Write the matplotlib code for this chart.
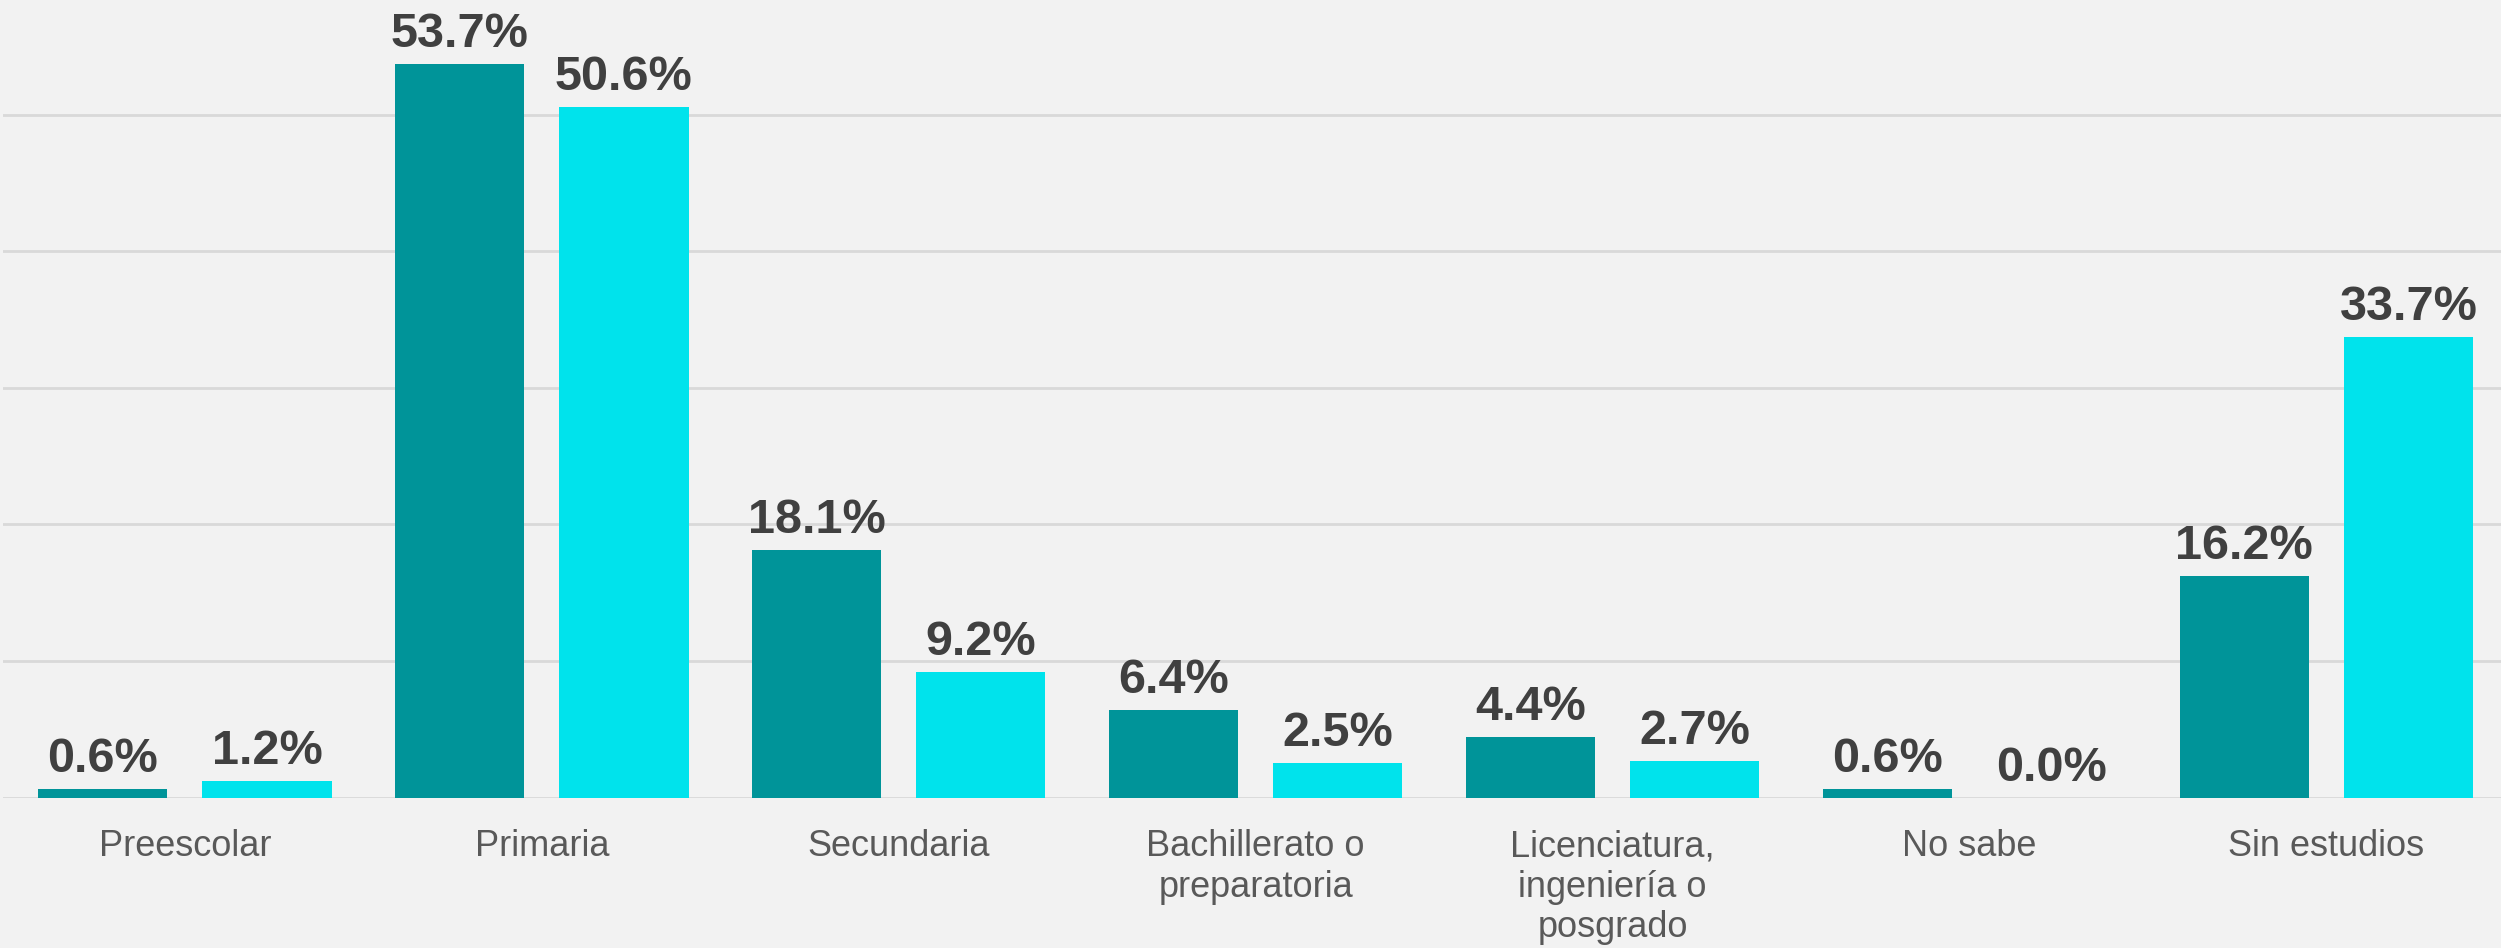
import numpy as np
import matplotlib.pyplot as plt

# Datos
categorias = ["Preescolar", "Primaria", "Secundaria", "Bachillerato o\npreparatoria",
              "Licenciatura,\ningeniería o\nposgrado", "No sabe", "Sin estudios"]
serie_1 = [0.6, 53.7, 18.1, 6.4, 4.4, 0.6, 16.2]
serie_2 = [1.2, 50.6, 9.2, 2.5, 2.7, 0.0, 33.7]

color_1 = "#009499"
color_2 = "#00E3EC"
fondo = "#F2F2F2"

plt.rcParams['font.family'] = ['Liberation Sans', 'DejaVu Sans']

fig = plt.figure(figsize=(25.01, 9.48), dpi=100, facecolor=fondo)
ax = fig.add_axes([0.001, 1 - 797.5 / 948, 0.999, 797.5 / 948])
ax.set_facecolor(fondo)

x = np.arange(len(categorias))
ancho = 0.362
desp = 0.23

b1 = ax.bar(x - desp, serie_1, ancho, color=color_1, zorder=3)
b2 = ax.bar(x + desp, serie_2, ancho, color=color_2, zorder=3)

for barras, valores in [(b1, serie_1), (b2, serie_2)]:
    for bar, v in zip(barras, valores):
        ax.annotate(f"{v:.1f}%", (bar.get_x() + bar.get_width() / 2, v),
                    xytext=(0, 5), textcoords="offset points",
                    ha="center", va="bottom", fontsize=35, fontweight="bold",
                    color="#404040")

ax.set_xlim(-0.511, 6.489)
ax.set_ylim(0, 58.4)
ax.set_yticks([0, 10, 20, 30, 40, 50])
ax.yaxis.grid(True, color="#D9D9D9", linewidth=2, zorder=0)
ax.tick_params(axis="y", left=False, labelleft=False)
ax.set_xticks(x)
ax.set_xticklabels(categorias, fontsize=26, color="#595959", linespacing=1.2)
ax.tick_params(axis="x", length=0, pad=23)
for s in ax.spines.values():
    s.set_visible(False)

fig.savefig("out.png", dpi=100, facecolor=fondo)
